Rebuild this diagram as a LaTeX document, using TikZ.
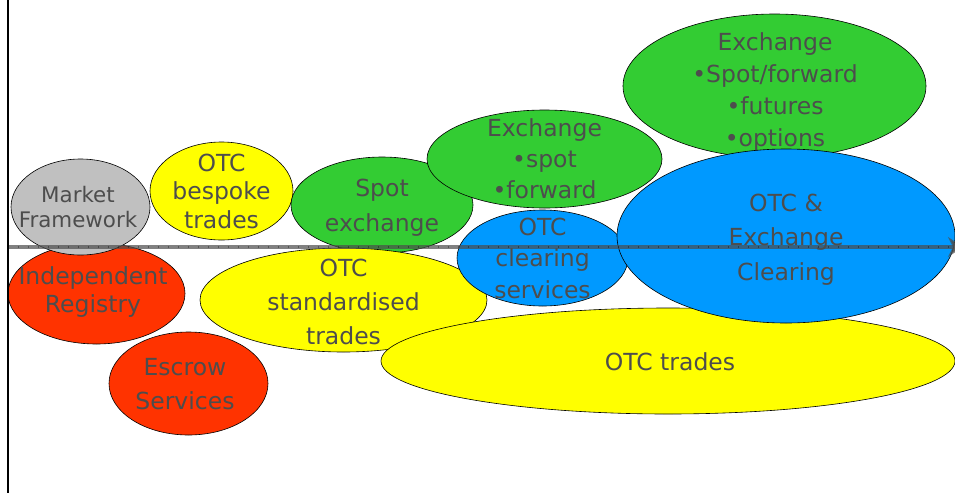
\documentclass[tikz,border=0pt]{standalone}
\usepackage{fontspec}
\setmainfont{DejaVu Sans}
\usetikzlibrary{shapes.geometric, arrows.meta}
\definecolor{mktgray}{RGB}{192, 192, 192}
\definecolor{otcyellow}{RGB}{255, 255, 0}
\definecolor{exgreen}{RGB}{51, 204, 51}
\definecolor{regred}{RGB}{255, 51, 0}
\definecolor{clrblue}{RGB}{0, 153, 255}
\definecolor{labelgray}{RGB}{77, 77, 77}

\tikzset{
  bubble/.style 2 args={ellipse, draw=black, line width=0.6pt, inner sep=0pt, minimum width=#1pt, minimum height=#2pt},
  txt/.style={inner sep=0pt, align=center, text=labelgray, font=\fontsize{23.5}{#1}\selectfont},
}

\begin{document}
\begin{tikzpicture}[x=1pt, y=-1pt]
  \useasboundingbox (0, 0) rectangle (955, 493);
  \clip (0, 0) rectangle (955, 493);

  % Infrastructure
  \node[bubble={177}{101}, fill=regred] (registry) at (96.5, 293.5) {};
  \node[txt=28] (registrytxt) at (93, 292) {Independent\\Registry};
  \node[bubble={139}{96}, fill=mktgray] (market) at (80.5, 207) {};
  \node[txt=25, font=\fontsize{21.4}{25}\selectfont] (markettxt) at (78, 207) {Market\\Framework};
  \node[bubble={143}{98}, fill=otcyellow] (bespoke) at (221.5, 191) {};
  \node[txt=28.5] (bespoketxt) at (bespoke) {OTC\\bespoke\\trades};
  \node[bubble={159}{103}, fill=regred] (escrow) at (188.5, 383.5) {};
  \node[txt=34] (escrowtxt) at (185, 384.5) {Escrow\\Services};

  % Trading
  \node[bubble={182}{96}, fill=exgreen] (spot) at (382, 205) {};
  \node[txt=35] (spottxt) at (382, 208) {Spot\\exchange};
  \node[bubble={287}{104}, fill=otcyellow] (standard) at (343.5, 300) {};
  \node[txt=34] (standardtxt) at (343.5, 301.5) {OTC\\standardised\\trades};
  \node[bubble={235}{98}, fill=exgreen] (exsmall) at (544.5, 159) {};
  \node[txt=31] (exsmalltxt) at (exsmall) {Exchange\\•spot\\•forward};
  \node[bubble={574}{106}, fill=otcyellow] (otc) at (668, 361) {};
  \node[txt=32] (otctxt) at (670, 362) {OTC trades};
  \node[bubble={171}{96}, fill=clrblue] (otcclear) at (542.5, 258) {};
  \node[txt=31.5] (otccleartxt) at (otcclear) {OTC\\clearing\\services};
  \node[bubble={303}{144}, fill=exgreen] (exbig) at (774.5, 86) {};
  \node[txt=32] (exbigtxt) at (775, 92) {Exchange\\•Spot/forward\\•futures\\•options};

  % Clearing
  \node[bubble={338}{174}, fill=clrblue] (clearing) at (786, 236) {};
  \node[txt=34.5] (clearingtxt) at (786, 239.5) {OTC \&\\Exchange\\Clearing};

  % Axes
  \coordinate (origin) at (8, 247);
  \coordinate (xend) at (963, 247);
  \coordinate (ytop) at (8, 0);
  \coordinate (ybot) at (8, 493);
  \draw[line width=3.5pt, black!70, opacity=0.7, -{Stealth[length=15pt, width=20pt]}] (origin) -- (xend);
  \draw[line width=2pt, black, opacity=0.35, dash pattern=on 1pt off 9pt] (origin) -- (xend);
  \draw[line width=2.5pt] (ytop) -- (ybot);
\end{tikzpicture}
\end{document}
